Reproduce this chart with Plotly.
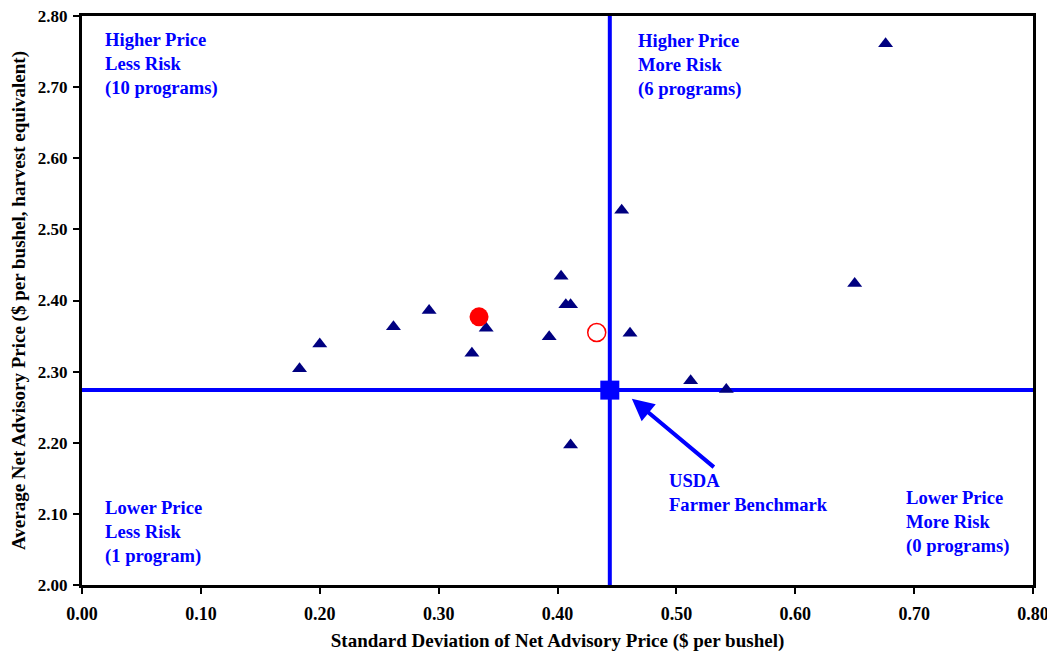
import plotly.graph_objects as go

# Advisory programs (triangles)
prog_sd = [0.183, 0.200, 0.262, 0.292, 0.328, 0.340, 0.393, 0.403, 0.407, 0.411,
           0.411, 0.454, 0.461, 0.512, 0.542, 0.650, 0.676]
prog_price = [2.304, 2.339, 2.363, 2.386, 2.326, 2.361, 2.349, 2.434, 2.394, 2.394,
              2.197, 2.527, 2.354, 2.287, 2.275, 2.424, 2.761]

# Market benchmarks
bench_filled_sd = [0.334]
bench_filled_price = [2.377]
bench_open_sd = [0.433]
bench_open_price = [2.355]

# USDA farmer benchmark
usda_sd = 0.444
usda_price = 2.274

x_ticks = [0.0, 0.1, 0.2, 0.3, 0.4, 0.5, 0.6, 0.7, 0.8]
x_ticklabels = ["0.00", "0.10", "0.20", "0.30", "0.40", "0.50", "0.60", "0.70", "0.80"]
y_ticks = [2.0, 2.1, 2.2, 2.3, 2.4, 2.5, 2.6, 2.7, 2.8]
y_ticklabels = ["2.00", "2.10", "2.20", "2.30", "2.40", "2.50", "2.60", "2.70", "2.80"]

FONT = "Liberation Serif, Times New Roman, serif"
BLUE = "#0000FF"

fig = go.Figure()

# quadrant lines
fig.add_trace(go.Scatter(x=[usda_sd, usda_sd], y=[2.0, 2.8], mode="lines",
                         line=dict(color=BLUE, width=4), hoverinfo="skip", showlegend=False))
fig.add_trace(go.Scatter(x=[-0.005, 0.8], y=[usda_price, usda_price], mode="lines",
                         line=dict(color=BLUE, width=4), hoverinfo="skip", showlegend=False,
                         cliponaxis=False))

fig.add_trace(go.Scatter(x=prog_sd, y=prog_price, mode="markers",
                         marker=dict(symbol="triangle-up", size=13, color="#000080"),
                         showlegend=False))
fig.add_trace(go.Scatter(x=bench_filled_sd, y=bench_filled_price, mode="markers",
                         marker=dict(symbol="circle", size=19, color="#FF0000"),
                         showlegend=False))
fig.add_trace(go.Scatter(x=bench_open_sd, y=bench_open_price, mode="markers",
                         marker=dict(symbol="circle-open", size=18, color="#FF0000",
                                     line=dict(width=1.5)),
                         showlegend=False))
fig.add_trace(go.Scatter(x=[usda_sd], y=[usda_price], mode="markers",
                         marker=dict(symbol="square", size=19, color=BLUE),
                         showlegend=False))

def label(x, y, text):
    fig.add_annotation(x=x, y=y, xref="x", yref="y", text=text, showarrow=False,
                       xanchor="left", yanchor="top", align="left",
                       font=dict(family=FONT, size=18.6, color=BLUE))

label(0.018, 2.785, "<b>Higher Price<br>Less Risk<br>(10 programs)</b>")
label(0.466, 2.7825, "<b>Higher Price<br>More Risk<br>(6 programs)</b>")
label(0.018, 2.127, "<b>Lower Price<br>Less Risk<br>(1 program)</b>")
label(0.492, 2.165, "<b>USDA<br>Farmer Benchmark</b>")
label(0.6916, 2.141, "<b>Lower Price<br>More Risk<br>(0 programs)</b>")

fig.add_annotation(x=0.4625, y=2.262, ax=0.5328, ay=2.164, xref="x", yref="y",
                   axref="x", ayref="y", text="", showarrow=True,
                   arrowhead=2, arrowsize=1.1, arrowwidth=4, arrowcolor=BLUE)

axis_common = dict(showgrid=False, zeroline=False, showline=True, linecolor="black",
                   linewidth=3, mirror=True, ticks="outside", ticklen=6, tickwidth=2,
                   tickcolor="black", automargin=False, ticklabeloverflow="allow")

fig.update_xaxes(range=[0, 0.8], tickvals=x_ticks, ticktext=["<b>%s</b>" % t for t in x_ticklabels],
                 tickfont=dict(family=FONT, size=18, color="black"), ticklabelstandoff=4,
                 title=dict(text="<b>Standard Deviation of Net Advisory Price ($ per bushel)</b>",
                            font=dict(family=FONT, size=19, color="black"), standoff=12),
                 **axis_common)
fig.update_yaxes(range=[2.0, 2.8], tickvals=y_ticks, ticktext=["<b>%s</b>" % t for t in y_ticklabels],
                 tickfont=dict(family=FONT, size=17, color="black"), ticklabelstandoff=2,
                 title=dict(text="<b>Average Net Advisory Price ($ per bushel, harvest equivalent)</b>",
                            font=dict(family=FONT, size=19, color="black"), standoff=8),
                 **axis_common)

# page body has an 8px margin, so the figure is sized/offset to place the plot area
fig.update_layout(width=1047, height=647, margin=dict(l=74, r=22, t=8, b=70),
                  plot_bgcolor="white", paper_bgcolor="white", showlegend=False)

fig.write_html("out.html")
